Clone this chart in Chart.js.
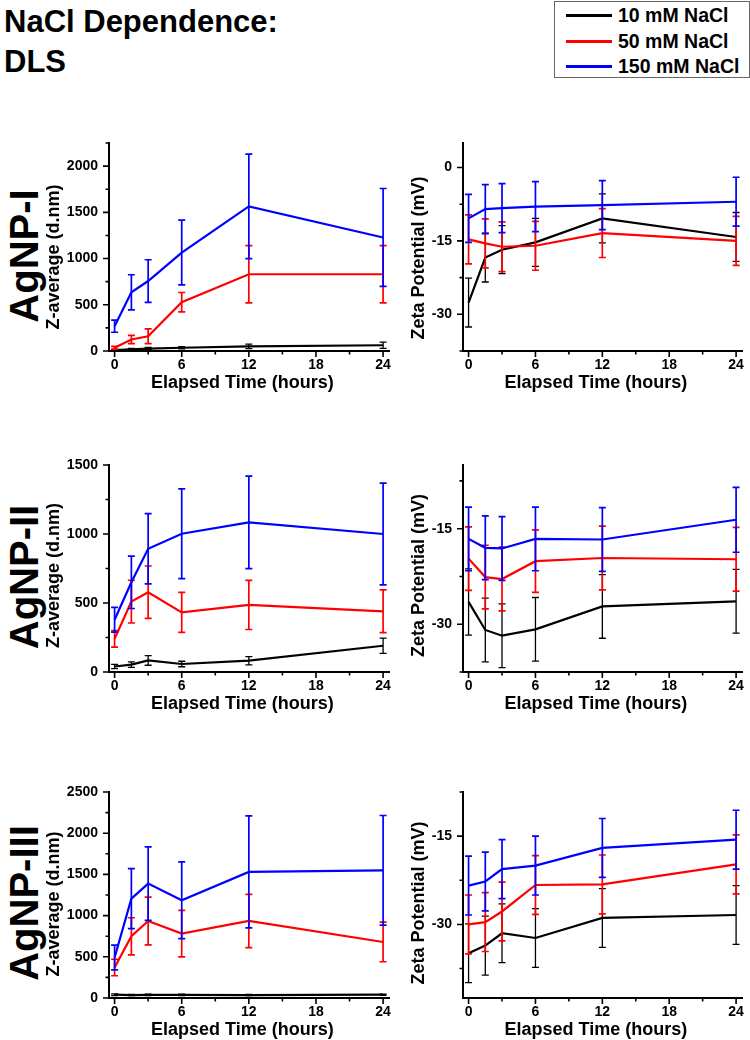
<!DOCTYPE html>
<html>
<head>
<meta charset="utf-8">
<script src="https://cdn.jsdelivr.net/npm/chart.js@4.4.0/dist/chart.umd.min.js"></script>
<style>
  html, body { margin: 0; padding: 0; background: #fff; overflow: hidden; }
  body { width: 750px; height: 1040px; position: relative; font-family: "Liberation Sans", Arial, sans-serif; font-weight: bold; color: #000; }
  canvas { position: absolute; }
  #title { position: absolute; left: 4px; top: 2px; font-size: 31px; line-height: 40px; white-space: nowrap; }
  #legend { position: absolute; left: 554px; top: 1px; width: 194px; height: 75px; border: 1px solid #666; }
  .row { position: absolute; left: 11px; height: 24px; display: flex; align-items: center; font-size: 19.5px; white-space: nowrap; }
  .row span { display: inline-block; width: 46px; height: 3px; margin-right: 6px; }
  .tag { position: absolute; font-size: 40px; line-height: 40px; white-space: nowrap; transform: translate(-50%, -50%) rotate(-90deg); }
</style>
</head>
<body>
<div id="title">NaCl Dependence:<br>DLS</div>
<div id="legend"></div>

<script>
// time points and axis ticks
const hours = [0, 1.5, 3, 6, 12, 24];
const hourTicks = [0, 6, 12, 18, 24];
const hourMinor = [3, 9, 15, 21];

const seriesNames = ['10 mM NaCl', '50 mM NaCl', '150 mM NaCl'];
const seriesColors = ['#000000', '#ff0000', '#0000ff'];
const panelNames = ['AgNP-I', 'AgNP-II', 'AgNP-III'];

// AgNP-I, Z-average (d.nm)
const zI_10 = [10, 18, 26, 35, 50, 62];
const zI_10_err = [8, 10, 12, 12, 25, 33];
const zI_50 = [35, 125, 160, 528, 830, 830];
const zI_50_err = [15, 45, 80, 105, 310, 310];
const zI_150 = [268, 635, 757, 1065, 1565, 1228];
const zI_150_err = [65, 190, 230, 350, 565, 530];

// AgNP-I, zeta potential (mV)
const zetaI_10 = [-27.6, -18.4, -16.8, -15.3, -10.4, -14.2];
const zetaI_10_err = [5.0, 5.0, 4.9, 4.9, 5.0, 5.0];
const zetaI_50 = [-14.7, -15.5, -16.2, -16.0, -13.4, -15.0];
const zetaI_50_err = [5.0, 5.0, 5.1, 5.0, 5.0, 5.0];
const zetaI_150 = [-10.4, -8.5, -8.3, -8.0, -7.7, -7.0];
const zetaI_150_err = [4.9, 5.0, 5.0, 5.1, 5.0, 5.0];

// AgNP-II
const zII_10 = [40, 53, 84, 58, 82, 190];
const zII_10_err = [15, 20, 35, 20, 30, 55];
const zII_50 = [240, 510, 578, 432, 486, 440];
const zII_50_err = [60, 155, 190, 145, 178, 155];
const zII_150 = [379, 650, 893, 1002, 1084, 1000];
const zII_150_err = [90, 190, 255, 325, 335, 368];

const zetaII_10 = [-26.5, -30.9, -31.8, -30.8, -27.2, -26.4];
const zetaII_10_err = [5.2, 5.0, 5.0, 5.0, 5.0, 5.0];
const zetaII_50 = [-19.7, -22.6, -22.9, -20.1, -19.6, -19.8];
const zetaII_50_err = [5.0, 5.0, 5.0, 4.9, 5.0, 5.0];
const zetaII_150 = [-16.6, -18.0, -18.1, -16.6, -16.7, -13.6];
const zetaII_150_err = [5.0, 5.0, 5.0, 5.0, 5.0, 5.1];

// AgNP-III
const zIII_10 = [40, 36, 38, 38, 36, 40];
const zIII_10_err = [10, 8, 8, 8, 8, 8];
const zIII_50 = [370, 749, 935, 781, 935, 680];
const zIII_50_err = [100, 225, 290, 283, 323, 240];
const zIII_150 = [492, 1206, 1388, 1186, 1530, 1550];
const zIII_150_err = [150, 365, 445, 465, 680, 665];

const zetaIII_10 = [-34.9, -33.6, -31.5, -32.3, -28.9, -28.4];
const zetaIII_10_err = [5.0, 5.0, 5.0, 5.0, 5.0, 5.0];
const zetaIII_50 = [-30.0, -29.6, -27.8, -23.3, -23.2, -19.8];
const zetaIII_50_err = [5.0, 5.0, 5.0, 5.0, 5.0, 5.0];
const zetaIII_150 = [-23.4, -22.7, -20.6, -20.0, -17.0, -15.6];
const zetaIII_150_err = [5.0, 5.0, 5.0, 5.0, 5.0, 5.0];

// y ticks
const zTicksI = [0, 500, 1000, 1500, 2000];
const zMinorI = [250, 750, 1250, 1750, 2250];
const zTicksII = [0, 500, 1000, 1500];
const zMinorII = [250, 750, 1250];
const zTicksIII = [0, 500, 1000, 1500, 2000, 2500];
const zMinorIII = [250, 750, 1250, 1750, 2250];
const zetaTicksI = [-30, -15, 0];
const zetaMinorI = [-37.5, -22.5, -7.5];
const zetaTicksII = [-30, -15];
const zetaMinorII = [-37.5, -22.5, -7.5];
const zetaTicksIII = [-30, -15];
const zetaMinorIII = [-37.5, -22.5, -7.5];

// legend + panel tags (html text)
const legend = document.getElementById('legend');
const legendY = [1, 27.5, 52.5];
seriesNames.forEach((n, k) => {
  const r = document.createElement('div');
  r.className = 'row';
  r.style.top = legendY[k] + 'px';
  r.innerHTML = '<span style="background:' + seriesColors[k] + '"></span>' + n;
  legend.appendChild(r);
});
const tagY = [256, 577, 903];
panelNames.forEach((n, k) => {
  const t = document.createElement('div');
  t.className = 'tag';
  t.textContent = n;
  t.style.left = '24px';
  t.style.top = tagY[k] + 'px';
  document.body.appendChild(t);
});

// error bars, minor/major tick marks, axis titles
const extras = {
  id: 'extras',
  afterDatasetDraw(chart, args) {
    const ds = chart.data.datasets[args.index];
    const { ctx, scales: { x, y } } = chart;
    ctx.save();
    ctx.strokeStyle = ds.borderColor;
    ctx.lineWidth = ds.errWidth;
    ctx.beginPath();
    ds.data.forEach((p, i) => {
      const px = x.getPixelForValue(p.x);
      const t = y.getPixelForValue(p.y + ds.errors[i]);
      const b = y.getPixelForValue(p.y - ds.errors[i]);
      ctx.moveTo(px, t); ctx.lineTo(px, b);
      ctx.moveTo(px - 3.5, t); ctx.lineTo(px + 3.5, t);
      ctx.moveTo(px - 3.5, b); ctx.lineTo(px + 3.5, b);
    });
    ctx.stroke();
    ctx.restore();
  },
  afterDraw(chart, args, o) {
    const { ctx, scales: { x, y }, chartArea: a } = chart;
    ctx.save();
    ctx.strokeStyle = '#000';
    ctx.lineWidth = 1.6;
    ctx.beginPath();
    hourTicks.forEach(v => { const p = x.getPixelForValue(v); ctx.moveTo(p, a.bottom); ctx.lineTo(p, a.bottom + 6); });
    hourMinor.forEach(v => { const p = x.getPixelForValue(v); ctx.moveTo(p, a.bottom); ctx.lineTo(p, a.bottom + 3.5); });
    o.yTicks.forEach(v => { const p = y.getPixelForValue(v); ctx.moveTo(a.left, p); ctx.lineTo(a.left - 6, p); });
    o.yMinor.forEach(v => { const p = y.getPixelForValue(v); ctx.moveTo(a.left, p); ctx.lineTo(a.left - 3.5, p); });
    ctx.stroke();

    ctx.fillStyle = '#000';
    ctx.font = 'bold 18px "Liberation Sans"';
    ctx.textAlign = 'center';
    ctx.textBaseline = 'middle';
    ctx.fillText('Elapsed Time (hours)', (a.left + a.right) / 2 - 7, a.bottom + 32);
    ctx.translate(a.left - o.yGap, (a.top + a.bottom) / 2 + o.yShift);
    ctx.rotate(-Math.PI / 2);
    ctx.fillText(o.yTitle, 0, 0);
    ctx.restore();
  }
};

const tickFont = { family: 'Liberation Sans', size: 14, weight: 'bold' };

function panel(area, yMin, yMax, yTicks, yMinor, yTitle, yGap, yShift, series) {
  const padL = 70, padT = 20, padR = 5, padB = 45;
  const cv = document.createElement('canvas');
  cv.width = area.r - area.l + padL + padR;
  cv.height = area.b - area.t + padT + padB;
  cv.style.left = (area.l - padL) + 'px';
  cv.style.top = (area.t - padT) + 'px';
  document.body.appendChild(cv);

  new Chart(cv, {
    type: 'line',
    data: {
      datasets: series.map((s, k) => ({
        label: seriesNames[k],
        data: hours.map((h, i) => ({ x: h, y: s[0][i] })),
        errors: s[1],
        errWidth: k === 0 ? 1.3 : 1.7,
        borderColor: seriesColors[k],
        borderWidth: 2.2,
        pointRadius: 0,
        tension: 0,
        fill: false,
        order: 2 - k
      }))
    },
    options: {
      responsive: false,
      animation: false,
      events: [],
      layout: { padding: { left: 0, top: padT, right: padR, bottom: 0 } },
      plugins: {
        legend: { display: false },
        tooltip: { enabled: false },
        extras: { yTicks, yMinor, yTitle, yGap, yShift }
      },
      scales: {
        x: {
          type: 'linear', min: -0.5, max: 24.6,
          grid: { display: false, drawTicks: false },
          border: { display: true, color: '#000', width: 2 },
          ticks: { font: tickFont, color: '#000', padding: 6, maxRotation: 0, autoSkip: false, callback: v => String(v) },
          afterBuildTicks: s => { s.ticks = hourTicks.map(v => ({ value: v })); },
          afterFit: s => { s.height = padB; }
        },
        y: {
          type: 'linear', min: yMin, max: yMax,
          grid: { display: false, drawTicks: false },
          border: { display: true, color: '#000', width: 2 },
          ticks: { font: tickFont, color: '#000', padding: 11, autoSkip: false, callback: v => String(v) },
          afterBuildTicks: s => { s.ticks = yTicks.map(v => ({ value: v })); },
          afterFit: s => { s.width = padL; }
        }
      }
    },
    plugins: [extras]
  });
}

const leftCol = { l: 109, r: 392 };
const rightCol = { l: 463, r: 745 };
const rows = [{ t: 143, b: 351 }, { t: 465, b: 672 }, { t: 792, b: 998 }];
const zLabel = 'Z-average (d.nm)';
const zetaLabel = 'Zeta Potential (mV)';

panel({ ...leftCol, ...rows[0] }, 0, 2250, zTicksI, zMinorI, zLabel, 54.5, 10,
  [[zI_10, zI_10_err], [zI_50, zI_50_err], [zI_150, zI_150_err]]);
panel({ ...rightCol, ...rows[0] }, -37.5, 5, zetaTicksI, zetaMinorI, zetaLabel, 44, 11,
  [[zetaI_10, zetaI_10_err], [zetaI_50, zetaI_50_err], [zetaI_150, zetaI_150_err]]);
panel({ ...leftCol, ...rows[1] }, 0, 1500, zTicksII, zMinorII, zLabel, 54.5, 7,
  [[zII_10, zII_10_err], [zII_50, zII_50_err], [zII_150, zII_150_err]]);
panel({ ...rightCol, ...rows[1] }, -37.5, -5, zetaTicksII, zetaMinorII, zetaLabel, 44, 7,
  [[zetaII_10, zetaII_10_err], [zetaII_50, zetaII_50_err], [zetaII_150, zetaII_150_err]]);
panel({ ...leftCol, ...rows[2] }, 0, 2500, zTicksIII, zMinorIII, zLabel, 54.5, 9,
  [[zIII_10, zIII_10_err], [zIII_50, zIII_50_err], [zIII_150, zIII_150_err]]);
panel({ ...rightCol, ...rows[2] }, -42.5, -7.5, zetaTicksIII, zetaMinorIII, zetaLabel, 44, 8,
  [[zetaIII_10, zetaIII_10_err], [zetaIII_50, zetaIII_50_err], [zetaIII_150, zetaIII_150_err]]);
</script>
</body>
</html>
